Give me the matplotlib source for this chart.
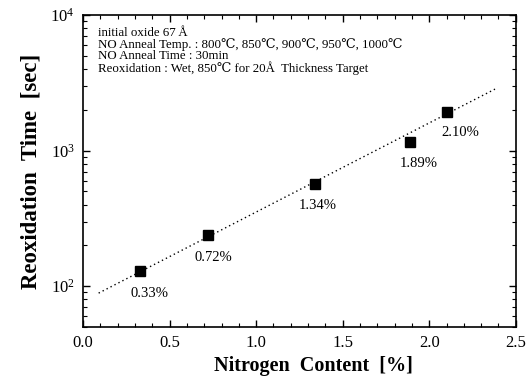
import matplotlib
matplotlib.use("Agg")
import matplotlib.pyplot as plt
from matplotlib.ticker import LogLocator, MultipleLocator, NullFormatter

plt.rcParams['font.family'] = ['Liberation Serif', 'DejaVu Serif']
plt.rcParams['mathtext.fontset'] = 'stix'

# data
nitrogen = [0.33, 0.72, 1.34, 1.89, 2.10]
reox_time = [129, 238, 572, 1150, 1930]
labels = ['0.33%', '0.72%', '1.34%', '1.89%', '2.10%']

# dotted fit line end points
fit_x = [0.09, 2.38]
fit_y = [89, 2840]

# label offsets from each point (points)
label_dx = [7, 4, 2, 6, 10]
label_dy = [-16, -16, -16, -15, -15]

info_lines = ["initial oxide 67\u2009\u00c5",
              "NO Anneal Temp. : 800\u2103, 850\u2103, 900\u2103, 950\u2103, 1000\u2103",
              "NO Anneal Time : 30min",
              "Reoxidation : Wet, 850\u2103 for 20\u00c5  Thickness Target"]

fig = plt.figure(figsize=(5.29, 3.83), dpi=100)
ax = fig.add_axes([0.157, 0.146, 0.818, 0.815])

ax.plot(fit_x, fit_y, linestyle=(0, (1, 2.2)), color='black', linewidth=1.0)
ax.plot(nitrogen, reox_time, 's', color='black', markersize=7.5)

for x, y, lab, dx, dy in zip(nitrogen, reox_time, labels, label_dx, label_dy):
    ax.annotate(lab, (x, y), xytext=(dx, dy), textcoords='offset points',
                ha='center', va='center', fontsize=10.5)

# header lines, fixed spacing so the fallback glyph doesn't shift them
for i, line in enumerate(info_lines):
    ax.text(0.035, 0.942 - i * 0.037, line, transform=ax.transAxes,
            ha='left', va='center', fontsize=9.3)

ax.set_yscale('log')
ax.set_xlim(0, 2.5)
ax.set_ylim(50, 10000)
ax.xaxis.set_major_locator(MultipleLocator(0.5))
ax.xaxis.set_minor_locator(MultipleLocator(0.1))
ax.yaxis.set_major_locator(LogLocator(base=10, numticks=10))
ax.yaxis.set_minor_locator(LogLocator(base=10, subs=range(2, 10), numticks=10))
ax.yaxis.set_minor_formatter(NullFormatter())
ax.xaxis.set_major_formatter(plt.FuncFormatter(lambda v, p: f'{v:.1f}'))

ax.tick_params(which='both', direction='in', top=True, right=True)
ax.tick_params(which='major', length=5, width=1, labelsize=12, pad=6)
ax.tick_params(which='minor', length=3, width=0.8)
for s in ax.spines.values():
    s.set_linewidth(1.2)

ax.set_xlabel('Nitrogen  Content  [%]', fontsize=14.5, fontweight='bold', va='center')
ax.xaxis.set_label_coords(0.533, -0.125)
ax.set_ylabel('Reoxidation  Time  [sec]', fontsize=16.5, fontweight='bold', labelpad=6)

fig.savefig('out.png', dpi=100)
